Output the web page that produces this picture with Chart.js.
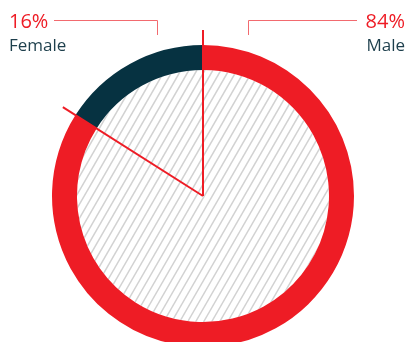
<!DOCTYPE html>
<html>
<head>
<meta charset="utf-8">
<script src="https://cdn.jsdelivr.net/npm/chart.js@4/dist/chart.umd.min.js"></script>
<style>
  html, body { margin: 0; padding: 0; background: #fff; overflow: hidden; }
  #wrap { width: 408px; height: 352px; position: relative; }
</style>
</head>
<body>
<div id="wrap"><canvas id="myChart"></canvas></div>
<script>
var etichette = ['Male', 'Female'];
var valori = [84, 16];
var percentuali = ['84%', '16%'];
var colori = ['#ee1c25', '#063241'];

// tratteggio grigio dentro il buco della ciambella
var sfondoRigato = {
    id: 'sfondoRigato',
    beforeDatasetsDraw: function(chart) {
        var arco = chart.getDatasetMeta(0).data[0];
        var ctx = chart.ctx;
        var cx = arco.x, cy = arco.y, r = arco.innerRadius;
        ctx.save();
        ctx.beginPath();
        ctx.arc(cx, cy, r, 0, Math.PI * 2);
        ctx.clip();
        ctx.strokeStyle = '#d2d2d2';
        ctx.lineWidth = 1.5;
        var passo = 8;
        var alt = 2 * r;
        var sposta = alt / Math.tan(Math.PI / 3);
        for (var x = cx - r - sposta; x < cx + r + sposta; x += passo) {
            ctx.beginPath();
            ctx.moveTo(x, cy + r);
            ctx.lineTo(x + sposta, cy - r);
            ctx.stroke();
        }
        ctx.restore();
    }
};

// linee rosse ed etichette
var etichetteFuori = {
    id: 'etichetteFuori',
    afterDatasetsDraw: function(chart) {
        var meta = chart.getDatasetMeta(0);
        var ctx = chart.ctx;
        var cx = meta.data[0].x, cy = meta.data[0].y;
        var lung = meta.data[0].outerRadius + 15;
        ctx.save();
        ctx.strokeStyle = '#ee1c25';
        ctx.lineWidth = 2;
        [meta.data[0].startAngle, meta.data[1].startAngle].forEach(function(a) {
            ctx.beginPath();
            ctx.moveTo(cx, cy);
            ctx.lineTo(cx + Math.cos(a) * lung, cy + Math.sin(a) * lung);
            ctx.stroke();
        });

        // connettori sottili
        ctx.strokeStyle = '#f26a6f';
        ctx.lineWidth = 1;
        ctx.beginPath();
        ctx.moveTo(54, 20.5); ctx.lineTo(157.5, 20.5); ctx.lineTo(157.5, 35);
        ctx.moveTo(357, 20.5); ctx.lineTo(248.5, 20.5); ctx.lineTo(248.5, 35);
        ctx.stroke();

        ctx.textBaseline = 'alphabetic';
        ctx.font = '20px "Open Sans"';
        ctx.fillStyle = '#ee1c25';
        ctx.textAlign = 'left';
        ctx.fillText(percentuali[1], 9, 28);
        ctx.textAlign = 'right';
        ctx.fillText(percentuali[0], 405, 28);

        ctx.font = '17px "Open Sans"';
        ctx.fillStyle = '#1d3f4c';
        ctx.textAlign = 'left';
        ctx.fillText(etichette[1], 9, 51);
        ctx.textAlign = 'right';
        ctx.fillText(etichette[0], 405, 51);
        ctx.restore();
    }
};

var ctx = document.getElementById('myChart').getContext('2d');
var myChart = new Chart(ctx, {
    type: 'doughnut',
    data: {
        labels: etichette,
        datasets: [{
            data: valori,
            backgroundColor: colori,
            borderWidth: 0,
        }]
    },
    options: {
        responsive: true,
        maintainAspectRatio: false,
        animation: false,
        radius: 151,
        cutout: 126,
        layout: { padding: { top: 45, bottom: 5, left: 0, right: 2 } },
        plugins: {
            legend: { display: false },
            tooltip: { enabled: false }
        }
    },
    plugins: [sfondoRigato, etichetteFuori]
});
</script>
</body>
</html>
